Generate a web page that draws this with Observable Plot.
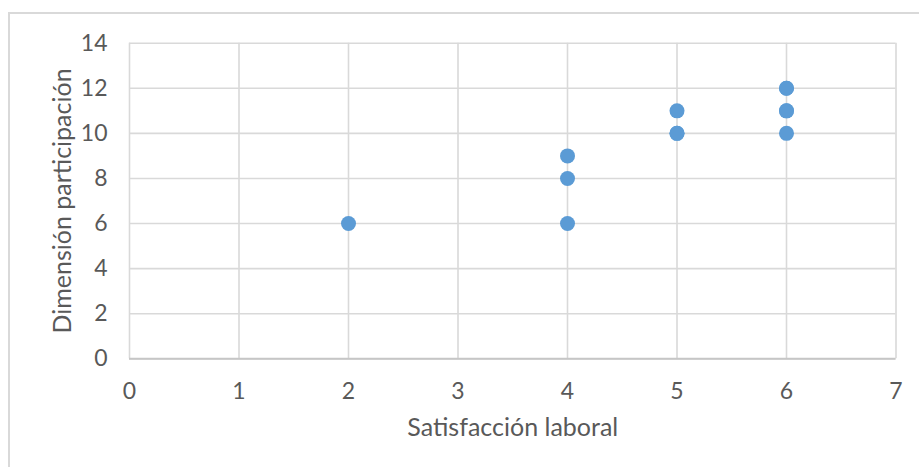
<!DOCTYPE html>
<html>
<head>
<meta charset="utf-8">
<script src="https://cdn.jsdelivr.net/npm/d3@7"></script>
<script src="https://cdn.jsdelivr.net/npm/@observablehq/plot@0.6"></script>
<style>
  html, body { margin: 0; padding: 0; background: #fff; }
  #wrap { position: relative; width: 919px; height: 467px; overflow: hidden; }
  #border { position: absolute; left: 8px; top: 12px; width: 1000px; height: 600px;
            border-left: 2px solid #d9d9d9; border-top: 2px solid #d9d9d9; }
  #chart { position: absolute; left: 0; top: 0; }
</style>
</head>
<body>
<div id="wrap"><div id="border"></div><div id="chart"></div></div>
<script>
// Satisfacción laboral (x) vs. Dimensión participación (y)
const satisfaccion = [2, 4, 4, 4, 5, 5, 5, 6, 6, 6, 6, 6];
const participacion = [6, 6, 8, 9, 10, 10, 11, 10, 11, 11, 12, 12];
const xTicks = [0, 1, 2, 3, 4, 5, 6, 7];
const yTicks = [0, 2, 4, 6, 8, 10, 12, 14];
const xTitle = "Satisfacción laboral";
const yTitle = "Dimensión participación";

const points = satisfaccion.map((x, i) => ({x, y: participacion[i]}));

const chart = Plot.plot({
  width: 919,
  height: 467,
  marginLeft: 129,
  marginRight: 23.5,
  marginTop: 42.7,
  marginBottom: 108.7,
  style: {fontFamily: "Lato, 'Open Sans', sans-serif", color: "#595959", background: "transparent"},
  x: {domain: [0, 7]},
  y: {domain: [0, 14]},
  marks: [
    Plot.ruleX(xTicks, {x: d => d, stroke: "#d9d9d9", strokeWidth: 1.6}),
    Plot.ruleY(yTicks, {y: d => d, stroke: "#d9d9d9", strokeWidth: 1.6}),
    Plot.ruleY([0], {stroke: "#c6c6c6", strokeWidth: 2}),
    Plot.axisX({ticks: xTicks, tickFormat: d3.format("d"), tickSize: 0, tickPadding: 24, label: null, fontSize: 23, fill: "#595959"}),
    Plot.axisY({ticks: yTicks, tickFormat: d3.format("d"), tickSize: 0, tickPadding: 22, label: null, fontSize: 23, fill: "#595959"}),
    Plot.text([xTitle], {frameAnchor: "bottom", dy: 77, fontSize: 25, fill: "#595959", text: d => d}),
    Plot.text([yTitle], {frameAnchor: "left", textAnchor: "middle", dx: -67, rotate: -90, fontSize: 25, fill: "#595959", text: d => d}),
    Plot.dot(points, {x: "x", y: "y", r: 7.5, fill: "#5b9bd5", stroke: "none"})
  ]
});
document.getElementById("chart").appendChild(chart);
</script>
</body>
</html>
